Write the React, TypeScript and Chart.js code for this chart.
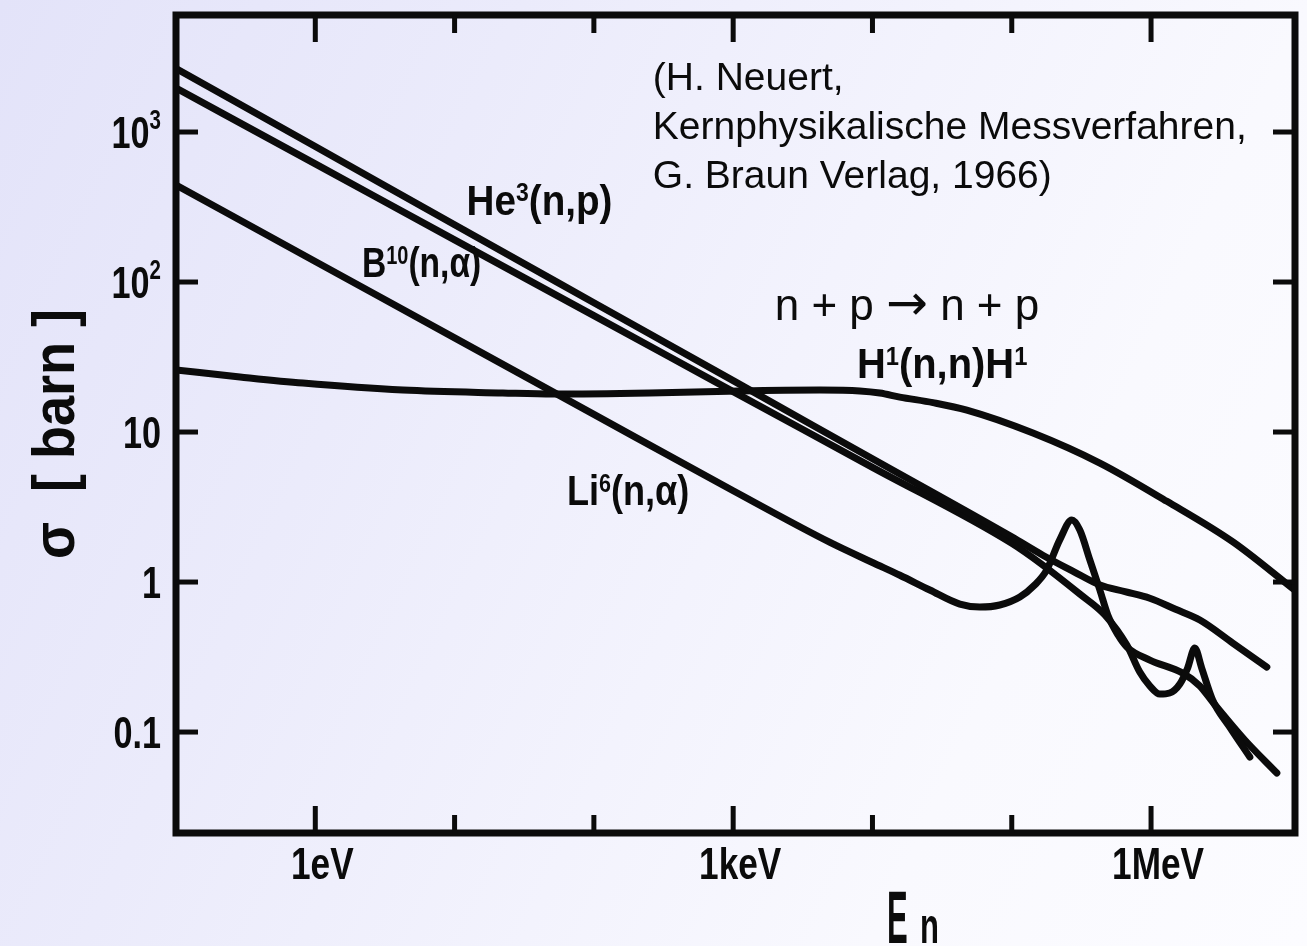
import React, { useEffect, useRef } from 'react';
import { Chart, registerables } from 'chart.js';

Chart.register(...registerables);

// ---------- axis ranges & ticks ----------
const X_MIN = 0.1;
const X_MAX = 1.08e7;
const Y_MIN = 0.02123;
const Y_MAX = 6026;

const xTickValues = [1, 10, 100, 1e3, 1e4, 1e5, 1e6];
const xTickLabels = ['1eV', '', '', '1keV', '', '', '1MeV'];
const yTickValues = [0.1, 1, 10, 100, 1000];
const yTickLabels = ['0.1', '1', '10', '10²', '10³'];

// ---------- series (energy in eV, cross section in barn) ----------
const he3Energy = [0.1, 1, 10, 100, 1e3, 1e4, 1e5, 1.67e5, 2.8e5, 4.3e5, 6.5e5, 9.8e5, 1.5e6, 2.24e6, 3.86e6, 6.78e6];
const he3Sigma = [2650, 800, 241, 72.8, 22.0, 6.63, 2.0, 1.51, 1.17, 0.955, 0.863, 0.78, 0.658, 0.558, 0.392, 0.271];

const b10Energy = [0.1, 1, 10, 100, 1e3, 1e4, 1e5, 1.667e5, 3.08e5, 4.66e5, 6.7e5, 8.3e5, 9.79e5, 1.156e6, 1.36e6, 1.61e6, 1.83e6, 2.06e6, 2.31e6, 2.77e6, 3.67e6, 5.12e6];
const b10Sigma = [1965, 613, 191, 59.7, 18.6, 5.81, 1.81, 1.30, 0.832, 0.603, 0.380, 0.251, 0.203, 0.179, 0.182, 0.209, 0.267, 0.363, 0.267, 0.163, 0.108, 0.0681];

const li6Energy = [0.1, 1, 10, 100, 1e3, 5e3, 1e4, 1.574e4, 2.58e4, 4.24e4, 5.9e4, 8.2e4, 1.143e5, 1.46e5, 1.78e5, 2.21e5, 2.7e5, 3.08e5, 3.64e5, 4.29e5, 4.89e5, 5.78e5, 6.7e5, 9.8e5, 1.69e6, 2.24e6, 2.78e6, 4.71e6, 8.0e6];
const li6Sigma = [443, 137, 42.4, 13.1, 4.06, 1.83, 1.35, 1.11, 0.885, 0.713, 0.681, 0.703, 0.794, 0.955, 1.20, 1.91, 2.59, 2.22, 1.40, 0.885, 0.603, 0.445, 0.369, 0.302, 0.247, 0.203, 0.158, 0.0885, 0.0533];

const hEnergy = [0.1, 0.288, 0.815, 4.26, 22.2, 50.8, 252, 1117, 4190, 8110, 1.13e4, 1.57e4, 2.72e4, 4.76e4, 1.42e5, 4.29e5, 1.3e6, 3.87e6, 1.08e7];
const hSigma = [25.9, 23.3, 21.2, 19.05, 18.2, 17.9, 18.2, 18.8, 19.05, 18.8, 18.2, 17.1, 15.7, 14.0, 9.85, 6.21, 3.45, 1.85, 0.88];

// ---------- annotations (anchored in data coordinates) ----------
type Part = { t: string; sup?: boolean; family?: string; size?: number };
const curveLabelParts: Part[][] = [
  [{ t: 'He' }, { t: '3', sup: true }, { t: '(n,p)' }],
  [{ t: 'B' }, { t: '10', sup: true }, { t: '(n,α)' }],
  [{ t: 'Li' }, { t: '6', sup: true }, { t: '(n,α)' }],
  [{ t: 'H' }, { t: '1', sup: true }, { t: '(n,n)H' }, { t: '1', sup: true }],
];
const curveLabelEnergy = [12.2, 2.16, 64, 7730];
const curveLabelSigma = [280, 108, 3.26, 22.9];
const curveLabelSqueeze = [0.92, 0.8, 0.86, 0.95];

const citeLines = ['(H. Neuert,', 'Kernphysikalische Messverfahren,', 'G. Braun Verlag, 1966)'];
const citeEnergy = 265;
const citeSigma = [1905, 898, 423];

const reactionParts: Part[] = [
  { t: 'n + p ' },
  { t: '\u2192', family: '"DejaVu Sans", sans-serif', size: 50 },
  { t: ' n + p' },
];
const reactionEnergy = 17700;
const reactionSigma = 55.8;

const yTitle = 'σ  [ barn ]';
const xTitleMain = 'E';
const xTitleSub = 'n';
const xTitleEnergy = 1.27e4;

// ---------- styles ----------
const INK = '#0b0b0b';
const REG = '"Liberation Sans", Arial, Helvetica, sans-serif';

function toPoints(xs: number[], ys: number[]) {
  return xs.map((x, i) => ({ x, y: ys[i] }));
}

function drawRich(
  ctx: CanvasRenderingContext2D,
  parts: Part[],
  x: number,
  y: number,
  size: number,
  sx: number,
  weight: string,
  family: string,
  align: 'left' | 'center' | 'right',
  supRaise = 0.32
) {
  ctx.save();
  ctx.translate(x, y);
  ctx.scale(sx, 1);
  const fontFor = (p: Part) =>
    `${weight} ${p.sup ? Math.round(size * 0.6) : p.size || size}px ${p.family || family}`;
  let total = 0;
  for (const p of parts) {
    ctx.font = fontFor(p);
    total += ctx.measureText(p.t).width;
  }
  let cx = align === 'center' ? -total / 2 : align === 'right' ? -total : 0;
  ctx.textAlign = 'left';
  ctx.textBaseline = 'alphabetic';
  for (const p of parts) {
    ctx.font = fontFor(p);
    ctx.fillText(p.t, cx, p.sup ? -size * supRaise : 0);
    cx += ctx.measureText(p.t).width;
  }
  ctx.restore();
}

function tickParts(label: string): Part[] {
  const supMap: Record<string, string> = { '²': '2', '³': '3' };
  const parts: Part[] = [];
  let main = '';
  for (const ch of label) {
    if (supMap[ch]) {
      if (main) parts.push({ t: main });
      main = '';
      parts.push({ t: supMap[ch], sup: true });
    } else main += ch;
  }
  if (main) parts.push({ t: main });
  return parts;
}

const framePlugin = {
  id: 'frameTicks',
  afterDatasetsDraw(chart: any) {
    const { ctx, chartArea: a, scales } = chart;
    const xs = scales.x;
    const ys = scales.y;
    ctx.save();
    ctx.strokeStyle = INK;
    ctx.lineWidth = 7;
    ctx.lineJoin = 'miter';
    ctx.strokeRect(a.left, a.top, a.right - a.left, a.bottom - a.top);
    ctx.lineWidth = 5;
    ctx.lineCap = 'butt';
    const seg = (x1: number, y1: number, x2: number, y2: number) => {
      ctx.beginPath();
      ctx.moveTo(x1, y1);
      ctx.lineTo(x2, y2);
      ctx.stroke();
    };
    ctx.fillStyle = INK;
    xs.ticks.forEach((t: any, i: number) => {
      const px = xs.getPixelForValue(t.value);
      const label = xTickLabels[i];
      const len = label ? 27 : 18;
      seg(px, a.bottom, px, a.bottom - len);
      seg(px, a.top, px, a.top + len);
      if (label) {
        drawRich(ctx, tickParts(label), px + 7, a.bottom + 46, 44, 0.8, 'bold', REG, 'center', 0.43);
      }
    });
    ys.ticks.forEach((t: any, i: number) => {
      const py = ys.getPixelForValue(t.value);
      seg(a.left, py, a.left + 22, py);
      seg(a.right, py, a.right - 22, py);
      const label = yTickLabels[i];
      drawRich(ctx, tickParts(label), a.left - 15, py + 16, 45, 0.76, 'bold', REG, 'right', 0.43);
    });
    ctx.restore();
  },
};

const textPlugin = {
  id: 'annotations',
  afterDraw(chart: any) {
    const { ctx, chartArea: a, scales } = chart;
    const xs = scales.x;
    const ys = scales.y;
    ctx.save();
    ctx.fillStyle = INK;

    // curve labels
    curveLabelParts.forEach((parts, i) => {
      drawRich(
        ctx,
        parts,
        xs.getPixelForValue(curveLabelEnergy[i]),
        ys.getPixelForValue(curveLabelSigma[i]),
        42,
        curveLabelSqueeze[i],
        'bold',
        REG,
        'left'
      );
    });

    // citation
    ctx.font = `39px ${REG}`;
    ctx.textAlign = 'left';
    ctx.textBaseline = 'alphabetic';
    citeLines.forEach((line, i) => {
      ctx.fillText(line, xs.getPixelForValue(citeEnergy), ys.getPixelForValue(citeSigma[i]));
    });

    // reaction
    drawRich(
      ctx,
      reactionParts,
      xs.getPixelForValue(reactionEnergy),
      ys.getPixelForValue(reactionSigma),
      44,
      1,
      'normal',
      REG,
      'center'
    );

    // y title (rotated)
    ctx.save();
    ctx.translate(74, (a.top + a.bottom) / 2 + 10);
    ctx.rotate(-Math.PI / 2);
    ctx.scale(0.9, 1);
    ctx.font = `bold 60px ${REG}`;
    ctx.textAlign = 'center';
    ctx.textBaseline = 'alphabetic';
    ctx.fillText(yTitle, 0, 0);
    ctx.restore();

    // x title  E_n
    const ex = xs.getPixelForValue(xTitleEnergy);
    const ey = a.bottom + 110;
    ctx.save();
    ctx.translate(ex, ey);
    ctx.scale(0.42, 1);
    ctx.font = `bold 74px ${REG}`;
    ctx.textAlign = 'left';
    ctx.textBaseline = 'alphabetic';
    ctx.fillText(xTitleMain, 0, 0);
    ctx.restore();
    ctx.save();
    ctx.translate(ex + 33, ey);
    ctx.scale(0.62, 1);
    ctx.font = `bold 50px ${REG}`;
    ctx.textAlign = 'left';
    ctx.textBaseline = 'alphabetic';
    ctx.fillText(xTitleSub, 0, 0);
    ctx.restore();

    ctx.restore();
  },
};

function makeSet(xs: number[], ys: number[]) {
  return {
    data: toPoints(xs, ys),
    showLine: true,
    borderColor: INK,
    backgroundColor: INK,
    borderWidth: 7,
    pointRadius: 0,
    pointHoverRadius: 0,
    fill: false,
    cubicInterpolationMode: 'monotone' as const,
    borderCapStyle: 'round' as const,
    borderJoinStyle: 'round' as const,
  };
}

export default function App() {
  const canvasRef = useRef<HTMLCanvasElement | null>(null);

  useEffect(() => {
    const canvas = canvasRef.current;
    if (!canvas) return;
    const chart = new Chart(canvas, {
      type: 'scatter',
      data: {
        datasets: [
          makeSet(he3Energy, he3Sigma),
          makeSet(b10Energy, b10Sigma),
          makeSet(li6Energy, li6Sigma),
          makeSet(hEnergy, hSigma),
        ],
      },
      options: {
        responsive: false,
        animation: false,
        devicePixelRatio: 1,
        layout: { padding: { top: 15, right: 12, left: 0, bottom: 0 } },
        plugins: { legend: { display: false }, tooltip: { enabled: false } },
        scales: {
          x: {
            type: 'logarithmic',
            position: 'bottom',
            min: X_MIN,
            max: X_MAX,
            grid: { display: false },
            border: { display: false },
            afterFit: (s: any) => {
              s.height = 113;
              s.paddingLeft = 0;
              s.paddingRight = 0;
              s.paddingTop = 0;
              s.paddingBottom = 0;
            },
            afterBuildTicks: (s: any) => {
              s.ticks = xTickValues.map((v) => ({ value: v }));
            },
            ticks: {
              display: false,
              autoSkip: false,
              callback: (_v: any, i: number) => xTickLabels[i],
            },
          },
          y: {
            type: 'logarithmic',
            position: 'left',
            min: Y_MIN,
            max: Y_MAX,
            grid: { display: false },
            border: { display: false },
            afterFit: (s: any) => {
              s.width = 176;
              s.paddingLeft = 0;
              s.paddingRight = 0;
              s.paddingTop = 0;
              s.paddingBottom = 0;
            },
            afterBuildTicks: (s: any) => {
              s.ticks = yTickValues.map((v) => ({ value: v }));
            },
            ticks: {
              display: false,
              autoSkip: false,
              callback: (_v: any, i: number) => yTickLabels[i],
            },
          },
        },
      } as any,
      plugins: [framePlugin, textPlugin],
    });
    return () => chart.destroy();
  }, []);

  return (
    <div
      style={{
        position: 'absolute',
        left: 0,
        top: 0,
        width: 1307,
        height: 946,
        overflow: 'hidden',
        background:
          'linear-gradient(115deg, #e3e3f9 0%, #ebebfb 30%, #f3f3fd 55%, #f9f9fe 75%, #fcfcff 100%)',
      }}
    >
      <canvas ref={canvasRef} width={1307} height={946} style={{ display: 'block' }} />
    </div>
  );
}
